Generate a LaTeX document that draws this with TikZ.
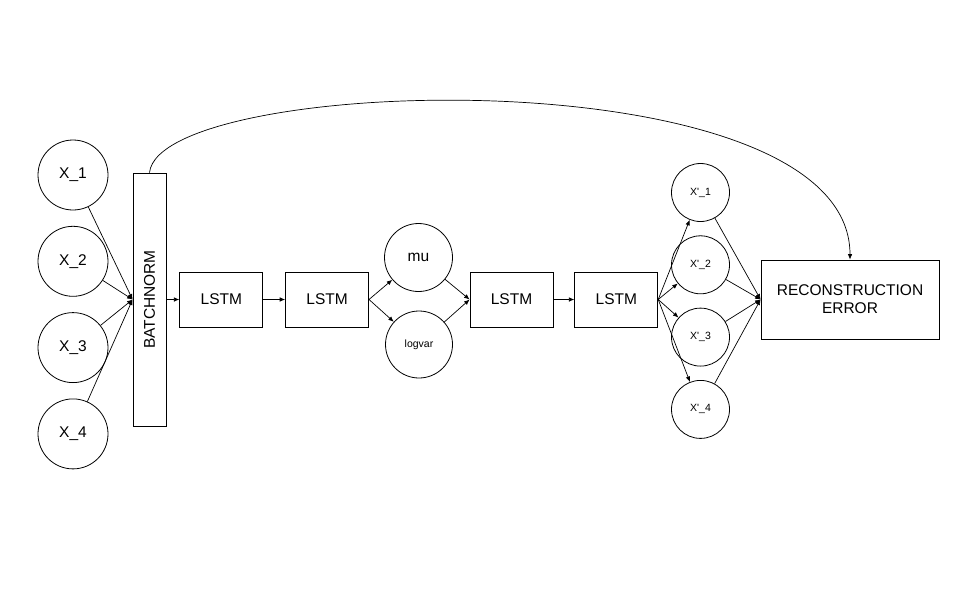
\documentclass[tikz,border=0pt]{standalone}
\usepackage{fontspec}
\setmainfont{Liberation Sans}
\usetikzlibrary{positioning, arrows.meta}

\begin{document}
\begin{tikzpicture}[
    x=1pt, y=-1pt,
    font=\fontsize{15.5}{18}\selectfont,
    box/.style={rectangle, draw, line width=0.8pt, inner sep=0pt,
                minimum height=55pt, minimum width=83pt, align=center},
    unit/.style={circle, draw, line width=0.8pt, inner sep=0pt, minimum size=70pt},
    small/.style={font=\fontsize{10.5}{12}\selectfont},
    arrow/.style={-{Latex[length=5.5pt, width=4.5pt]}, line width=0.7pt}
]
\useasboundingbox (0,0) rectangle (960,600);

% Inputs and batch norm
\node[unit] (x1) at (73,175) {X\_1};
\node[unit, below=15.5pt of x1] (x2) {X\_2};
\node[unit, below=15.5pt of x2] (x3) {X\_3};
\node[unit, below=15.5pt of x3] (x4) {X\_4};
\node[box, minimum width=33pt, minimum height=253pt] (bn) at (149.5,299.5)
     {\rotatebox{90}{BATCHNORM}};

% Encoder, latent, decoder
\node[box, right=13pt of bn] (lstm1) {LSTM};
\node[box, right=22pt of lstm1] (lstm2) {LSTM};
\node[unit, minimum size=68pt] (mu) at (418.5,257.5) {mu};
\node[unit, small, minimum size=67pt] (logvar) at (419,344.5) {logvar};
\node[box] (lstm3) at (511.5,299.5) {LSTM};
\node[box, right=21pt of lstm3] (lstm4) {LSTM};

% Outputs
\node[unit, small, minimum size=58pt] (xp1) at (700.5,192.5) {X\textquotesingle\_1};
\node[unit, small, minimum size=58pt, below=13.5pt of xp1] (xp2) {X\textquotesingle\_2};
\node[unit, small, minimum size=58pt, below=13.5pt of xp2] (xp3) {X\textquotesingle\_3};
\node[unit, small, minimum size=58pt, below=13.5pt of xp3] (xp4) {X\textquotesingle\_4};
\node[box, minimum width=178pt, minimum height=79pt] (rec) at (850,299.5)
     {RECONSTRUCTION\\ERROR};

% Connectors
\foreach \i in {1,...,4}
    \draw[arrow] (x\i) -- (bn.west);
\draw[arrow] (bn.east) -- (lstm1.west);
\draw[arrow] (lstm1.east) -- (lstm2.west);
\draw[arrow] (lstm2.east) -- (mu);
\draw[arrow] (lstm2.east) -- (logvar);
\draw[arrow] (mu) -- (lstm3.west);
\draw[arrow] (logvar) -- (lstm3.west);
\draw[arrow] (lstm3.east) -- (lstm4.west);
\foreach \i in {1,...,4} {
    \draw[arrow] (lstm4.east) -- (xp\i);
    \draw[arrow] (xp\i) -- (rec.west);
}
\draw[arrow] (bn.north) .. controls (160,74) and (850,54) .. (rec.north);

\end{tikzpicture}
\end{document}
